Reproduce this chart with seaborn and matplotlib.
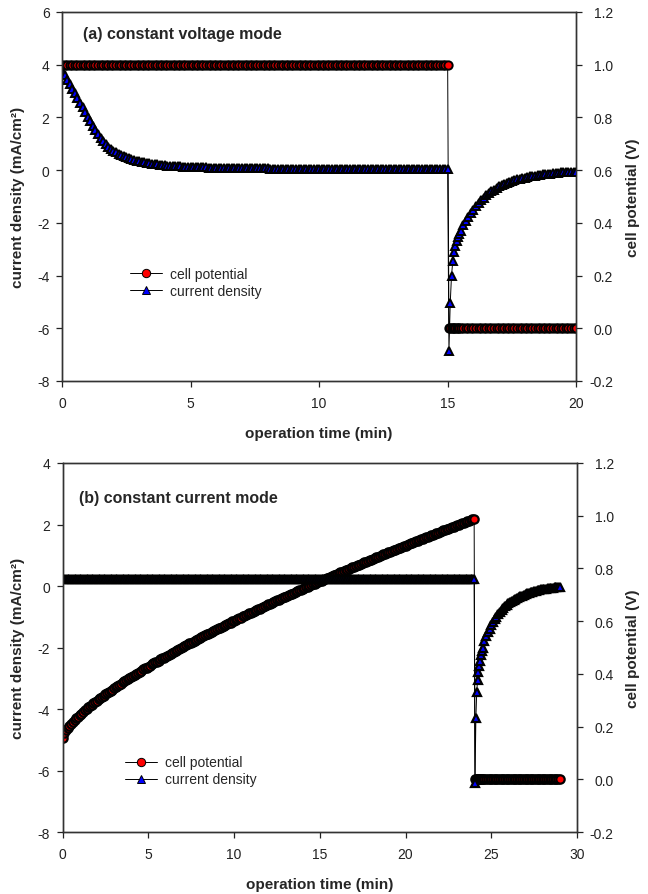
import matplotlib
matplotlib.use("Agg")
import matplotlib.pyplot as plt
import seaborn as sns

# ---- (a) constant voltage mode ----
cv_time = [
    0.0, 0.1, 0.2, 0.3, 0.4, 0.5, 0.6, 0.7, 0.8, 0.9,
    1.0, 1.1, 1.2, 1.3, 1.4, 1.5, 1.6, 1.7, 1.8, 1.9,
    2.0, 2.1, 2.2, 2.3, 2.4, 2.5, 2.6, 2.7, 2.8, 2.9,
    3.0, 3.1, 3.2, 3.3, 3.4, 3.5, 3.6, 3.7, 3.8, 3.9,
    4.0, 4.1, 4.2, 4.3, 4.4, 4.5, 4.6, 4.7, 4.8, 4.9,
    5.0, 5.1, 5.2, 5.3, 5.4, 5.5, 5.6, 5.7, 5.8, 5.9,
    6.0, 6.1, 6.2, 6.3, 6.4, 6.5, 6.6, 6.7, 6.8, 6.9,
    7.0, 7.1, 7.2, 7.3, 7.4, 7.5, 7.6, 7.7, 7.8, 7.9,
    8.0, 8.1, 8.2, 8.3, 8.4, 8.5, 8.6, 8.7, 8.8, 8.9,
    9.0, 9.1, 9.2, 9.3, 9.4, 9.5, 9.6, 9.7, 9.8, 9.9,
    10.0, 10.1, 10.2, 10.3, 10.4, 10.5, 10.6, 10.7, 10.8, 10.9,
    11.0, 11.1, 11.2, 11.3, 11.4, 11.5, 11.6, 11.7, 11.8, 11.9,
    12.0, 12.1, 12.2, 12.3, 12.4, 12.5, 12.6, 12.7, 12.8, 12.9,
    13.0, 13.1, 13.2, 13.3, 13.4, 13.5, 13.6, 13.7, 13.8, 13.9,
    14.0, 14.1, 14.2, 14.3, 14.4, 14.5, 14.6, 14.7, 14.8, 14.9,
    15.0,
    15.05, 15.1, 15.15, 15.2, 15.25, 15.3, 15.35, 15.4, 15.45, 15.5,
    15.6, 15.7, 15.8, 15.9, 16.0, 16.1, 16.2, 16.3, 16.4, 16.5,
    16.6, 16.7, 16.8, 16.9, 17.0, 17.1, 17.2, 17.3, 17.4, 17.5,
    17.6, 17.7, 17.8, 17.9, 18.0, 18.1, 18.2, 18.3, 18.4, 18.5,
    18.6, 18.7, 18.8, 18.9, 19.0, 19.1, 19.2, 19.3, 19.4, 19.5,
    19.6, 19.7, 19.8, 19.9, 20.0,
]
cv_current = [
    3.75, 3.59, 3.43, 3.26, 3.09, 2.92, 2.74, 2.56, 2.38, 2.20,
    2.02, 1.85, 1.68, 1.52, 1.37, 1.23, 1.10, 0.99, 0.89, 0.81,
    0.73, 0.67, 0.61, 0.56, 0.52, 0.48, 0.45, 0.42, 0.39, 0.36,
    0.34, 0.32, 0.30, 0.28, 0.26, 0.245, 0.23, 0.215, 0.20, 0.19,
    0.18, 0.17, 0.16, 0.155, 0.15, 0.145, 0.14, 0.135, 0.13, 0.125,
    0.12, 0.115, 0.11, 0.105, 0.10, 0.10, 0.10, 0.095, 0.09, 0.09,
    0.09, 0.085, 0.08, 0.08, 0.08, 0.08, 0.08, 0.075, 0.07, 0.07,
] + [0.07] * 11 + [0.06] * 30 + [0.05] * 40 + [
    -6.85, -5.05, -4.00, -3.45, -3.12, -2.87, -2.70, -2.55, -2.42, -2.30,
    -2.10, -1.94, -1.78, -1.64, -1.50, -1.37, -1.25, -1.14, -1.04, -0.95,
    -0.87, -0.80, -0.74, -0.68, -0.62, -0.57, -0.53, -0.49, -0.45, -0.41,
    -0.38, -0.355, -0.33, -0.305, -0.28, -0.26, -0.24, -0.225, -0.21, -0.195,
    -0.18, -0.165, -0.15, -0.14, -0.13, -0.12, -0.11, -0.10, -0.09, -0.085,
    -0.08, -0.075, -0.07, -0.065, -0.06,
]
cv_potential = [1.0] * 151 + [0.0] * 55

# ---- (b) constant current mode ----
cc_time = [
    0.0, 0.1, 0.2, 0.3, 0.4, 0.5, 0.6, 0.7, 0.8, 0.9,
    1.0, 1.1, 1.2, 1.3, 1.4, 1.5, 1.6, 1.7, 1.8, 1.9,
    2.0, 2.1, 2.2, 2.3, 2.4, 2.5, 2.6, 2.7, 2.8, 2.9,
    3.0, 3.1, 3.2, 3.3, 3.4, 3.5, 3.6, 3.7, 3.8, 3.9,
    4.0, 4.1, 4.2, 4.3, 4.4, 4.5, 4.6, 4.7, 4.8, 4.9,
    5.0, 5.1, 5.2, 5.3, 5.4, 5.5, 5.6, 5.7, 5.8, 5.9,
    6.0, 6.1, 6.2, 6.3, 6.4, 6.5, 6.6, 6.7, 6.8, 6.9,
    7.0, 7.1, 7.2, 7.3, 7.4, 7.5, 7.6, 7.7, 7.8, 7.9,
    8.0, 8.1, 8.2, 8.3, 8.4, 8.5, 8.6, 8.7, 8.8, 8.9,
    9.0, 9.1, 9.2, 9.3, 9.4, 9.5, 9.6, 9.7, 9.8, 9.9,
    10.0, 10.1, 10.2, 10.3, 10.4, 10.5, 10.6, 10.7, 10.8, 10.9,
    11.0, 11.1, 11.2, 11.3, 11.4, 11.5, 11.6, 11.7, 11.8, 11.9,
    12.0, 12.1, 12.2, 12.3, 12.4, 12.5, 12.6, 12.7, 12.8, 12.9,
    13.0, 13.1, 13.2, 13.3, 13.4, 13.5, 13.6, 13.7, 13.8, 13.9,
    14.0, 14.1, 14.2, 14.3, 14.4, 14.5, 14.6, 14.7, 14.8, 14.9,
    15.0, 15.1, 15.2, 15.3, 15.4, 15.5, 15.6, 15.7, 15.8, 15.9,
    16.0, 16.1, 16.2, 16.3, 16.4, 16.5, 16.6, 16.7, 16.8, 16.9,
    17.0, 17.1, 17.2, 17.3, 17.4, 17.5, 17.6, 17.7, 17.8, 17.9,
    18.0, 18.1, 18.2, 18.3, 18.4, 18.5, 18.6, 18.7, 18.8, 18.9,
    19.0, 19.1, 19.2, 19.3, 19.4, 19.5, 19.6, 19.7, 19.8, 19.9,
    20.0, 20.1, 20.2, 20.3, 20.4, 20.5, 20.6, 20.7, 20.8, 20.9,
    21.0, 21.1, 21.2, 21.3, 21.4, 21.5, 21.6, 21.7, 21.8, 21.9,
    22.0, 22.1, 22.2, 22.3, 22.4, 22.5, 22.6, 22.7, 22.8, 22.9,
    23.0, 23.1, 23.2, 23.3, 23.4, 23.5, 23.6, 23.7, 23.8, 23.9,
    24.0,
    24.05, 24.1, 24.15, 24.2, 24.25, 24.3, 24.35, 24.4, 24.45, 24.5,
    24.6, 24.7, 24.8, 24.9, 25.0, 25.1, 25.2, 25.3, 25.4, 25.5,
    25.6, 25.7, 25.8, 25.9, 26.0, 26.1, 26.2, 26.3, 26.4, 26.5,
    26.6, 26.7, 26.8, 26.9, 27.0, 27.1, 27.2, 27.3, 27.4, 27.5,
    27.6, 27.7, 27.8, 27.9, 28.0, 28.1, 28.2, 28.3, 28.4, 28.5,
    28.6, 28.7, 28.8, 28.9, 29.0,
]
cc_current = [0.22] * 241 + [
    -6.40, -4.30, -3.45, -3.05, -2.80, -2.60, -2.42, -2.25, -2.12, -2.00,
    -1.80, -1.63, -1.50, -1.38, -1.28, -1.18, -1.08, -1.00, -0.92, -0.85,
    -0.78, -0.72, -0.66, -0.61, -0.56, -0.52, -0.48, -0.45, -0.42, -0.39,
    -0.36, -0.33, -0.31, -0.28, -0.26, -0.24, -0.22, -0.20, -0.18, -0.17,
    -0.15, -0.14, -0.12, -0.11, -0.10, -0.09, -0.08, -0.07, -0.06, -0.05,
    -0.05, -0.04, -0.04, -0.03, -0.03,
]
cc_potential = [
    0.159, 0.176, 0.186, 0.195, 0.203, 0.211, 0.218, 0.225, 0.232, 0.238,
    0.244, 0.250, 0.256, 0.262, 0.267, 0.273, 0.278, 0.283, 0.289, 0.294,
    0.299, 0.304, 0.308, 0.313, 0.318, 0.323, 0.328, 0.332, 0.337, 0.341,
    0.346, 0.350, 0.355, 0.359, 0.363, 0.368, 0.372, 0.376, 0.380, 0.384,
    0.388, 0.393, 0.397, 0.401, 0.405, 0.409, 0.413, 0.417, 0.421, 0.424,
    0.428, 0.432, 0.436, 0.440, 0.444, 0.447, 0.451, 0.455, 0.459, 0.462,
    0.466, 0.470, 0.473, 0.477, 0.480, 0.484, 0.488, 0.491, 0.495, 0.498,
    0.502, 0.505, 0.509, 0.512, 0.516, 0.519, 0.523, 0.526, 0.529, 0.533,
    0.536, 0.540, 0.543, 0.546, 0.550, 0.553, 0.556, 0.560, 0.563, 0.566,
    0.570, 0.573, 0.576, 0.579, 0.583, 0.586, 0.589, 0.592, 0.595, 0.599,
    0.602, 0.605, 0.608, 0.611, 0.614, 0.618, 0.621, 0.624, 0.627, 0.630,
    0.633, 0.636, 0.639, 0.642, 0.645, 0.648, 0.652, 0.655, 0.658, 0.661,
    0.664, 0.667, 0.670, 0.673, 0.676, 0.679, 0.682, 0.685, 0.688, 0.690,
    0.693, 0.696, 0.699, 0.702, 0.705, 0.708, 0.711, 0.714, 0.717, 0.720,
    0.723, 0.726, 0.728, 0.731, 0.734, 0.737, 0.740, 0.743, 0.746, 0.748,
    0.751, 0.754, 0.757, 0.760, 0.763, 0.765, 0.768, 0.771, 0.774, 0.777,
    0.779, 0.782, 0.785, 0.788, 0.790, 0.793, 0.796, 0.799, 0.801, 0.804,
    0.807, 0.810, 0.812, 0.815, 0.818, 0.821, 0.823, 0.826, 0.829, 0.831,
    0.834, 0.837, 0.839, 0.842, 0.845, 0.848, 0.850, 0.853, 0.855, 0.858,
    0.861, 0.863, 0.866, 0.869, 0.871, 0.874, 0.877, 0.879, 0.882, 0.884,
    0.887, 0.890, 0.892, 0.895, 0.897, 0.900, 0.903, 0.905, 0.908, 0.910,
    0.913, 0.916, 0.918, 0.921, 0.923, 0.926, 0.928, 0.931, 0.934, 0.936,
    0.939, 0.941, 0.944, 0.946, 0.949, 0.951, 0.954, 0.956, 0.959, 0.961,
    0.964, 0.966, 0.969, 0.971, 0.974, 0.976, 0.979, 0.981, 0.984, 0.986,
    0.989,
] + [0.0] * 55

series_labels = ["cell potential", "current density"]
x_label = "operation time (min)"
left_label = "current density (mA/cm²)"
right_label = "cell potential (V)"
right_ticks = [-0.2, 0.0, 0.2, 0.4, 0.6, 0.8, 1.0, 1.2]


def draw_panel(ax, t, current, potential, title, xlim, xticks, ylim, yticks,
               title_pos, legend_pos, edge):
    ax2 = ax.twinx()

    sns.lineplot(x=t, y=potential, ax=ax2, sort=False, estimator=None,
                 errorbar=None, color="black", lw=0.7, marker="o",
                 markersize=6.0, markerfacecolor="#ff0000",
                 markeredgecolor="black", markeredgewidth=edge)
    pot_line = ax2.get_lines()[-1]

    sns.lineplot(x=t, y=current, ax=ax, sort=False, estimator=None,
                 errorbar=None, color="black", lw=0.7, marker="^",
                 markersize=5.6, markerfacecolor="#0000ff",
                 markeredgecolor="black", markeredgewidth=edge)
    cur_line = ax.get_lines()[-1]

    # current density (left axis) sits above the potential markers
    ax.set_zorder(ax2.get_zorder() + 1)
    ax.patch.set_visible(False)

    ax.set_xlim(*xlim)
    ax.set_xticks(xticks)
    ax.set_ylim(*ylim)
    ax.set_yticks(yticks)
    ax2.set_ylim(-0.2, 1.2)
    ax2.set_yticks(right_ticks)
    ax2.set_yticklabels([f"{v:.1f}" for v in right_ticks])

    ax.tick_params(axis="both", direction="out", length=4, width=0.9,
                   labelsize=10, colors="#222222")
    ax.tick_params(axis="x", pad=6.5)
    ax.tick_params(axis="y", pad=5)
    ax2.tick_params(axis="y", direction="out", length=4, width=0.9,
                    labelsize=10, colors="#222222", pad=22.5)
    for lab in ax2.get_yticklabels():
        lab.set_horizontalalignment("right")

    for a in (ax, ax2):
        for sp in a.spines.values():
            sp.set_color("#333333")
            sp.set_linewidth(1.0)
            sp.set_visible(True)

    ax.set_xlabel(x_label, fontsize=11, fontweight="bold", labelpad=12)
    ax.set_ylabel(left_label, fontsize=11, fontweight="bold", labelpad=9)
    ax2.set_ylabel(right_label, fontsize=11, fontweight="bold", labelpad=9)

    ax.text(title_pos[0], title_pos[1], title, transform=ax.transAxes,
            fontsize=11.5, fontweight="bold", ha="left", va="center")

    if ax2.get_legend() is not None:
        ax2.get_legend().remove()
    leg = ax.legend([pot_line, cur_line], series_labels, loc="upper left",
                    bbox_to_anchor=legend_pos, frameon=False, borderaxespad=0,
                    borderpad=0, handlelength=2.3, handletextpad=0.6,
                    labelspacing=0.22, fontsize=10)
    for h in leg.legend_handles:
        h.set_markeredgewidth(0.7)


def main():
    sns.set_theme(style="ticks")
    plt.rcParams["font.family"] = ["Liberation Sans", "DejaVu Sans"]
    plt.rcParams["axes.unicode_minus"] = False

    fig = plt.figure(figsize=(6.48, 8.95), dpi=100)
    ax_a = fig.add_axes([0.0957, 0.5732, 0.7935, 0.4123])
    ax_b = fig.add_axes([0.0965, 0.0690, 0.7940, 0.4126])

    draw_panel(ax_a, cv_time, cv_current, cv_potential,
               "(a) constant voltage mode", (0, 20), [0, 5, 10, 15, 20],
               (-8, 6), [-8, -6, -4, -2, 0, 2, 4, 6],
               (0.041, 0.943), (0.132, 0.309), 1.4)
    draw_panel(ax_b, cc_time, cc_current, cc_potential,
               "(b) constant current mode", (0, 30), [0, 5, 10, 15, 20, 25, 30],
               (-8, 4), [-8, -6, -4, -2, 0, 2, 4],
               (0.032, 0.906), (0.121, 0.208), 1.6)

    fig.savefig("out.png", dpi=100)


if __name__ == "__main__":
    main()
